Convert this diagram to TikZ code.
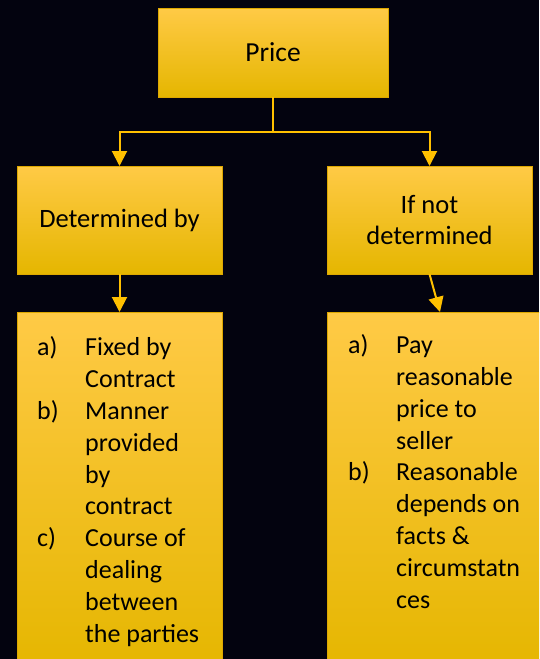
\documentclass[tikz,border=0pt]{standalone}
\usepackage{fontspec}
\setmainfont{Carlito}
\usetikzlibrary{positioning,arrows.meta,calc}

\definecolor{nightbg}{RGB}{3,3,15}
\definecolor{goldtop}{RGB}{255,202,70}
\definecolor{goldmid}{RGB}{255,198,0}
\definecolor{goldbot}{RGB}{229,182,0}
\definecolor{goldline}{RGB}{255,192,0}
\definecolor{goldedge}{RGB}{222,168,0}

\tikzset{
  goldbox/.style={draw=goldedge, line width=1pt, top color=goldtop, middle color=goldmid,
    bottom color=goldbot, inner sep=0pt, outer sep=0pt, align=center,
    font=\fontsize{26.5}{31}\selectfont},
  % base anchor of a multi-line node sits on its last line
  itemtext/.style={inner sep=0pt, align=left, anchor=base west,
    font=\fontsize{26}{31.8}\selectfont},
  link/.style={goldline, line width=2pt},
  pointer/.style={link, -{Triangle[width=15pt,length=15pt]}},
}
% list labels and continuation indent
\newcommand{\itemlbl}[1]{\makebox[48pt][l]{#1}}
\newcommand{\itemgap}{\hspace*{48pt}}

\begin{document}
\begin{tikzpicture}[x=1pt,y=-1pt]
  \fill[nightbg] (0,0) rectangle (539,659);
  \clip (0,0) rectangle (539,659);

  % Boxes
  \node[goldbox, minimum width=230pt, minimum height=89pt, font=\fontsize{27.5}{32}\selectfont]
    (price) at (273,52.5) {Price};
  \node[goldbox, minimum width=205pt, minimum height=108pt] (det) at (119.5,220) {Determined by};
  \node[goldbox, minimum width=205pt, minimum height=108pt] (notdet) at (429.5,220) {If not\\determined};
  \node[goldbox, minimum width=205pt, minimum height=358pt] (detlist) at (119.5,491) {};
  \node[goldbox, minimum width=226pt, minimum height=358pt] (notdetlist) at (440,491) {};

  % Lists
  \node[itemtext] (detitems) at ($(detlist.north west)+(20,330)$)
    {\itemlbl{a)}Fixed by\\\itemgap Contract\\\itemlbl{b)}Manner\\\itemgap provided\\\itemgap by\\
     \itemgap contract\\\itemlbl{c)}Course of\\\itemgap dealing\\\itemgap between\\\itemgap the parties};
  \node[itemtext] (notdetitems) at ($(notdetlist.north west)+(21,296)$)
    {\itemlbl{a)}Pay\\\itemgap reasonable\\\itemgap price to\\\itemgap seller\\\itemlbl{b)}Reasonable\\
     \itemgap depends on\\\itemgap facts \&\\\itemgap circumstatn\\\itemgap ces};

  % Connectors
  \coordinate (fork) at (273,132);
  \draw[link] (price.south) -- (fork);
  \draw[pointer] (fork) -| (det.north);
  \draw[pointer] (fork) -| (notdet.north);
  \draw[pointer] (det.south) -- (detlist.north);
  \draw[pointer] (notdet.south) -- (notdetlist.north);
\end{tikzpicture}
\end{document}
